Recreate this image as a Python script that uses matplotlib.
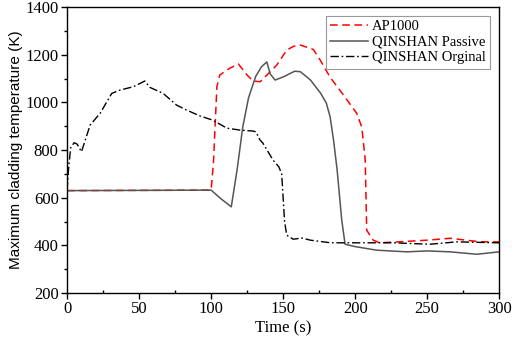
import numpy as np
import matplotlib.pyplot as plt
from matplotlib.ticker import MultipleLocator

# -------- data --------
ap_t = [0, 100, 101.6, 104, 106, 113, 119, 125, 129, 134, 138.7, 145.6, 152.5, 157, 162, 171,
        175.7, 182.6, 193, 201, 204.6, 207, 208, 212.5, 217, 230, 250, 266, 287, 300]
ap_T = [630, 632, 745, 1066, 1115, 1144, 1161, 1115, 1090, 1087, 1115, 1157, 1220, 1235, 1241, 1222,
        1178, 1106, 1022, 955, 897, 758, 464, 422, 411, 415, 422, 430, 415, 415]

qp_t = [0, 100, 107, 114, 118, 122, 126, 131, 135, 138.7, 141, 144.4, 150, 158, 162, 169,
        176, 180, 182.6, 185, 187.5, 190.7, 193, 200, 215, 236, 250, 266, 284.5, 300]
qp_T = [630, 632, 595, 562, 716, 898, 1020, 1110, 1150, 1170, 1120, 1094, 1107, 1131, 1129, 1094,
        1039, 997, 940, 842, 716, 506, 405, 395, 380, 373, 377, 373, 363, 373]

qo_t = [0, 1, 2.5, 4.9, 7, 10, 16, 23, 31, 36.8, 46, 54, 57.6, 66.7, 76, 83, 92, 101, 111,
        120, 129, 131, 134, 136, 143, 147, 149, 150, 151, 152.5, 157, 163, 169, 183, 196.5, 226, 252, 270.6, 300]
qo_T = [630, 720, 810, 831, 825, 793, 905, 955, 1038, 1052, 1066, 1090, 1063, 1038, 989, 968, 944, 926, 892,
        884, 880, 877, 842, 829, 758, 730, 700, 600, 500, 443, 426, 431, 422, 411, 411, 411, 405, 415, 411]

plt.rcParams['font.family'] = ['Liberation Serif', 'DejaVu Serif']
plt.rcParams['font.size'] = 12

fig = plt.figure(figsize=(5.12, 3.4), dpi=100)
ax = fig.add_axes([0.131, 0.138, 0.844, 0.841])

ax.plot(ap_t, ap_T, color='red', ls=(0, (5, 3)), lw=1.1, label='AP1000')
ax.plot(qp_t, qp_T, color='#555555', ls='-', lw=1.1, label='QINSHAN Passive')
ax.plot(qo_t, qo_T, color='black', ls=(0, (6, 2, 1.2, 2)), lw=1.0, label='QINSHAN Orginal')

ax.set_xlim(0, 300)
ax.set_ylim(200, 1400)
ax.xaxis.set_major_locator(MultipleLocator(50))
ax.xaxis.set_minor_locator(MultipleLocator(25))
ax.yaxis.set_major_locator(MultipleLocator(200))
ax.yaxis.set_minor_locator(MultipleLocator(100))
ax.tick_params(which='major', direction='out', length=4, width=1, labelsize=12, pad=2)
ax.tick_params(axis='y', which='minor', direction='out', length=2.5, width=1)
ax.tick_params(axis='x', which='minor', direction='in', length=2.5, width=1)
for s in ax.spines.values():
    s.set_linewidth(1)

ax.set_xlabel('Time (s)', fontsize=12, labelpad=2)
ax.set_ylabel('Maximum cladding temperature (K)', fontsize=11,
              family=['Liberation Sans', 'DejaVu Sans'], labelpad=2)

leg = ax.legend(loc='upper right', fontsize=10.5, fancybox=False, edgecolor='#999999',
                framealpha=1, handlelength=2.6, borderpad=0.3, labelspacing=0.15,
                handletextpad=0.3, borderaxespad=0.6)
leg.get_frame().set_linewidth(0.8)

plt.savefig('out.png', dpi=100)
